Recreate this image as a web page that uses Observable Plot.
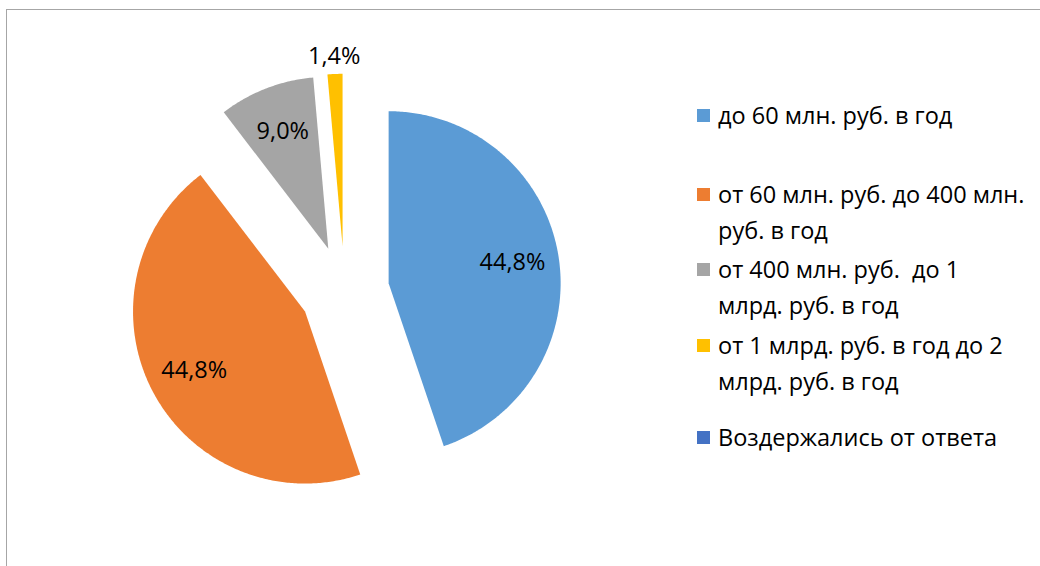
<!DOCTYPE html>
<html><head><meta charset="utf-8">
<script src="https://cdn.jsdelivr.net/npm/d3@7"></script>
<script src="https://cdn.jsdelivr.net/npm/@observablehq/plot@0.6"></script>
<style>
body{margin:0;background:#fff;font-family:"Open Sans",sans-serif;}
#wrap{position:relative;width:1040px;height:566px;overflow:hidden;background:#fff}
#frame{position:absolute;left:6px;top:9px;width:1100px;height:700px;border-left:1.5px solid #a6a6a6;border-top:1.5px solid #a6a6a6}
#chart{position:absolute;left:0;top:0}
#legend{position:absolute;left:697px;top:0}
.item{position:absolute;left:0;display:flex;align-items:flex-start;width:420px;font-size:23.5px;line-height:36px;color:#000;white-space:pre}
.sw{width:13px;height:13px;flex:none;margin:12px 8px 0 0}
</style></head><body>
<div id="wrap"><div id="frame"></div><div id="chart"></div><div id="legend"></div></div>
<script>
// ---- data ----
const categories = [
  "до 60 млн. руб. в год",
  "от 60 млн. руб. до 400 млн.\nруб. в год",
  "от 400 млн. руб.  до 1\nмлрд. руб. в год",
  "от 1 млрд. руб. в год до 2\nмлрд. руб. в год",
  "Воздержались от ответа"
];
const shares = [44.8, 44.8, 9.0, 1.4, 0];
const valueLabels = ["44,8%", "44,8%", "9,0%", "1,4%", "0,0%"];
const colors = ["#5b9bd5", "#ed7d31", "#a5a5a5", "#ffc000", "#4472c4"];

// ---- layout ----
const W = 1040, H = 566;
const cx = 344, cy = 290, R = 172;   // pixel center & radius
const explode = 0.26;                 // in radius units
const legendTops = [97, 176, 251, 327, 419];

const pie = d3.pie().sort(null).value(d => d)(shares);
const pts = [];
const lbl = [];
pie.forEach((p, i) => {
  if (p.value <= 0) return;
  const mid = (p.startAngle + p.endAngle) / 2;
  const ox = explode * Math.sin(mid), oy = explode * Math.cos(mid);
  pts.push({cat: categories[i], x: ox, y: oy});
  const n = Math.max(4, Math.ceil((p.endAngle - p.startAngle) / 0.01));
  for (let k = 0; k <= n; k++) {
    const a = p.startAngle + (p.endAngle - p.startAngle) * k / n;
    pts.push({cat: categories[i], x: ox + Math.sin(a), y: oy + Math.cos(a)});
  }
  const share = p.value / d3.sum(shares);
  const lr = share < 0.05 ? 1.1 : 0.73;
  lbl.push({text: valueLabels[i], x: ox + lr * Math.sin(mid), y: oy + lr * Math.cos(mid)});
});

const chart = Plot.plot({
  width: W, height: H, margin: 0,
  x: {domain: [-cx / R, (W - cx) / R], axis: null},
  y: {domain: [-(H - cy) / R, cy / R], axis: null},
  color: {domain: categories, range: colors},
  style: {fontFamily: "'Open Sans', sans-serif", background: "transparent", overflow: "visible"},
  marks: [
    Plot.line(pts, {x: "x", y: "y", z: "cat", fill: "cat", stroke: null, curve: "linear-closed"}),
    Plot.text(lbl, {x: "x", y: "y", text: "text", fontSize: 23.5, fill: "#000"})
  ]
});
document.getElementById("chart").appendChild(chart);

const leg = document.getElementById("legend");
categories.forEach((c, i) => {
  const it = document.createElement("div");
  it.className = "item";
  it.style.top = legendTops[i] + "px";
  const sw = document.createElement("div");
  sw.className = "sw";
  sw.style.background = colors[i];
  const tx = document.createElement("div");
  tx.textContent = c;
  it.appendChild(sw); it.appendChild(tx);
  leg.appendChild(it);
});
</script>
</body></html>
